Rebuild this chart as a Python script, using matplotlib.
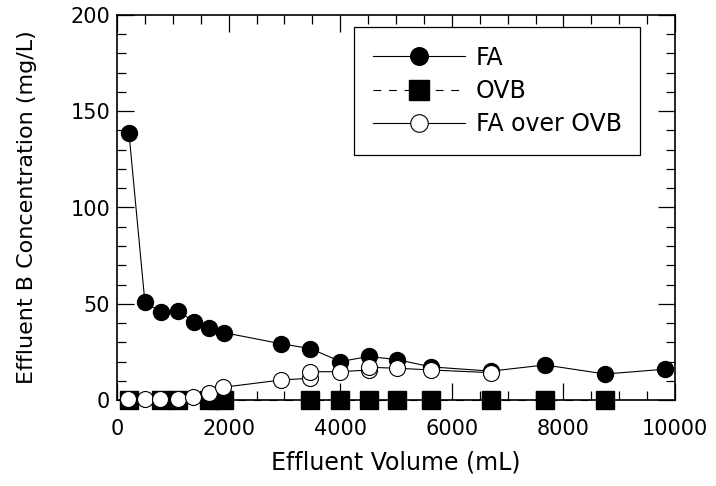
import matplotlib
matplotlib.use("Agg")
import matplotlib.pyplot as plt
from matplotlib.ticker import MultipleLocator

plt.rcParams['font.family'] = ['DejaVu Sans']

# Data
fa_x = [215, 500, 790, 1090, 1380, 1650, 1915, 2945, 3465, 4005, 4510, 5020, 5630, 6700, 7670, 8750, 9820]
fa_y = [138.5, 50.8, 45.6, 46.2, 40.7, 37.6, 35.0, 29.2, 26.7, 20.0, 22.6, 21.0, 17.2, 15.0, 18.2, 13.5, 16.0]

ovb_x = [215, 790, 1090, 1650, 1915, 3465, 4005, 4510, 5020, 5630, 6700, 7670, 8750]
ovb_y = [0, 0, 0, 0, 0, 0, 0, 0, 0, 0, 0, 0, 0]

fo_x = [200, 500, 775, 1090, 1365, 1650, 1900, 2945, 3465, 3465, 4005, 4510, 4510, 5020, 5630, 6700]
fo_y = [0.4, 0.4, 0.4, 0.4, 1.7, 3.8, 6.6, 10.4, 11.3, 14.7, 14.7, 15.6, 17.0, 16.5, 15.6, 14.2]

x_ticks = [0, 2000, 4000, 6000, 8000, 10000]
y_ticks = [0, 50, 100, 150, 200]

fig = plt.figure(figsize=(7.16, 4.86), dpi=100)
ax = fig.add_axes([117/716, 86/486, 558/716, 385/486])

ax.plot(fa_x, fa_y, color='black', lw=0.8, marker='o', ms=11.5,
        mfc='black', mec='black', label='FA', clip_on=False, zorder=3)
ax.plot(ovb_x, ovb_y, color='black', lw=0.8, ls=(0, (7, 7)), marker='s', ms=12.5,
        mfc='black', mec='black', label='OVB', clip_on=False, zorder=4)
ax.plot(fo_x, fo_y, color='black', lw=0.8, marker='o', ms=11.5,
        mfc='white', mec='black', mew=0.8, label='FA over OVB', clip_on=False, zorder=5)

ax.set_xlim(0, 10000)
ax.set_ylim(0, 200)
ax.set_xticks(x_ticks)
ax.set_yticks(y_ticks)
ax.xaxis.set_minor_locator(MultipleLocator(500))
ax.yaxis.set_minor_locator(MultipleLocator(10))

ax.tick_params(which='both', direction='in', top=True, right=True, width=0.9, colors='black')
ax.tick_params(which='major', length=12)
ax.tick_params(which='minor', length=6.5)
ax.tick_params(axis='x', which='major', labelsize=15, pad=14)
ax.tick_params(axis='y', which='major', labelsize=15, pad=5)

for s in ax.spines.values():
    s.set_linewidth(1.2)
    s.set_color('black')

ax.set_xlabel('Effluent Volume (mL)', fontsize=17, labelpad=8)
ax.set_ylabel('Effluent B Concentration (mg/L)', fontsize=16, labelpad=24)

leg = ax.legend(loc='upper left', bbox_to_anchor=(0.4247, 0.9696), borderaxespad=0,
                fontsize=17, handlelength=3.9, handletextpad=0.45, labelspacing=0.4,
                borderpad=0.8, fancybox=False, framealpha=1, edgecolor='black',
                markerscale=1.1)
leg.get_frame().set_linewidth(0.9)

fig.savefig('out.png', dpi=100)
